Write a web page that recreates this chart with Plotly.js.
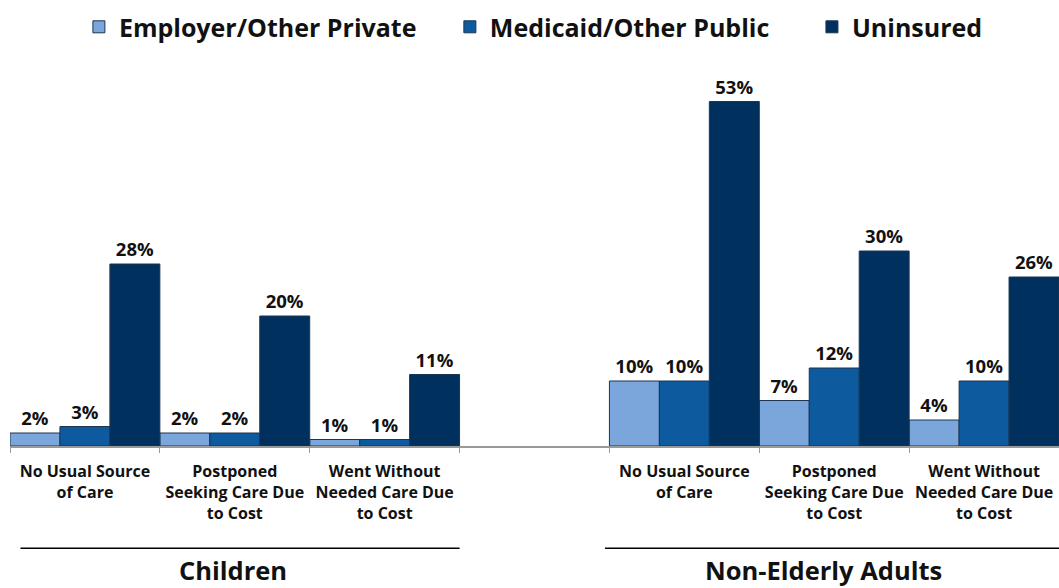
<!DOCTYPE html>
<html>
<head>
<meta charset="utf-8">
<script src="https://cdn.plot.ly/plotly-3.0.1.min.js"></script>
<style>html,body{margin:0;padding:0;background:#fff;}#chart{width:1059px;height:588px;}</style>
</head>
<body>
<div id="chart"></div>
<script>
// Category slots: three for children, an empty spacer, three for non-elderly adults
const categoryIds = ["ch_usual", "ch_postponed", "ch_without", "spacer", "ad_usual", "ad_postponed", "ad_without"];
const tickLabels = [
  "No Usual Source<br>of Care",
  "Postponed<br>Seeking Care Due<br>to Cost",
  "Went Without<br>Needed Care Due<br>to Cost",
  "",
  "No Usual Source<br>of Care",
  "Postponed<br>Seeking Care Due<br>to Cost",
  "Went Without<br>Needed Care Due<br>to Cost"
];
const seriesNames = ["Employer/Other Private", "Medicaid/Other Public", "Uninsured"];
const employerPrivate = [2, 2, 1, null, 10, 7, 4];
const medicaidPublic  = [3, 2, 1, null, 10, 12, 10];
const uninsured       = [28, 20, 11, null, 53, 30, 26];
const groupTitles = ["Children", "Non-Elderly Adults"];

const colors = ["#7AA6DC", "#0D5A9E", "#00305E"];
const FONT = "Open Sans, Liberation Sans, sans-serif";
const legendIds = ["legend", "legend2", "legend3"];

const seriesValues = [employerPrivate, medicaidPublic, uninsured];
const traces = seriesValues.map((vals, i) => ({
  type: "bar",
  name: seriesNames[i],
  legend: legendIds[i],
  x: categoryIds,
  y: vals,
  marker: {color: colors[i], line: {color: "#1C3550", width: 1}},
  text: vals.map(v => v == null ? "" : v + "%"),
  textposition: "outside",
  cliponaxis: false,
  textfont: {family: FONT, size: 18.5, color: "#111", weight: 700},
  hoverinfo: "none"
}));

function legendAt(xFrac) {
  return {
    orientation: "h", xref: "container", yref: "container",
    x: xFrac, xanchor: "left", y: 0.954, yanchor: "middle",
    font: {family: FONT, size: 25, color: "#111", weight: 700},
    itemwidth: 30, bgcolor: "rgba(0,0,0,0)"
  };
}

const layout = {
  width: 1059, height: 588,
  margin: {l: 10, r: 0, t: 56, b: 142, autoexpand: false},
  paper_bgcolor: "#fff", plot_bgcolor: "#fff",
  barmode: "group", bargap: 0, bargroupgap: 0,
  showlegend: true,
  legend: legendAt(0.0745),
  legend2: legendAt(0.4248),
  legend3: legendAt(0.7667),
  xaxis: {
    type: "category",
    categoryorder: "array", categoryarray: categoryIds,
    tickmode: "array", tickvals: categoryIds, ticktext: tickLabels,
    tickson: "boundaries",
    ticks: "outside", ticklen: 5, tickcolor: "#999", tickwidth: 1,
    ticklabelstandoff: 10,
    showline: true, linecolor: "#999", linewidth: 2,
    showgrid: false, zeroline: false,
    tickfont: {family: FONT, size: 16, color: "#111", weight: 700},
    range: [-0.5, 6.5], fixedrange: true
  },
  yaxis: {
    range: [0, 60], visible: false, showgrid: false, zeroline: false, fixedrange: true
  },
  shapes: [
    {type: "line", xref: "x", yref: "paper", x0: -0.43, x1: 2.5, y0: -0.262, y1: -0.262, line: {color: "#000", width: 1.5}},
    {type: "line", xref: "x", yref: "paper", x0: 3.47, x1: 6.5, y0: -0.262, y1: -0.262, line: {color: "#000", width: 1.5}}
  ],
  annotations: [
    {xref: "x", yref: "paper", x: 0.99, y: -0.318, text: groupTitles[0], showarrow: false, yanchor: "middle",
     font: {family: FONT, size: 25.5, color: "#111", weight: 700}},
    {xref: "x", yref: "paper", x: 4.93, y: -0.318, text: groupTitles[1], showarrow: false, yanchor: "middle",
     font: {family: FONT, size: 25.5, color: "#111", weight: 700}}
  ]
};

Plotly.newPlot("chart", traces, layout, {displayModeBar: false, staticPlot: true});
</script>
</body>
</html>
